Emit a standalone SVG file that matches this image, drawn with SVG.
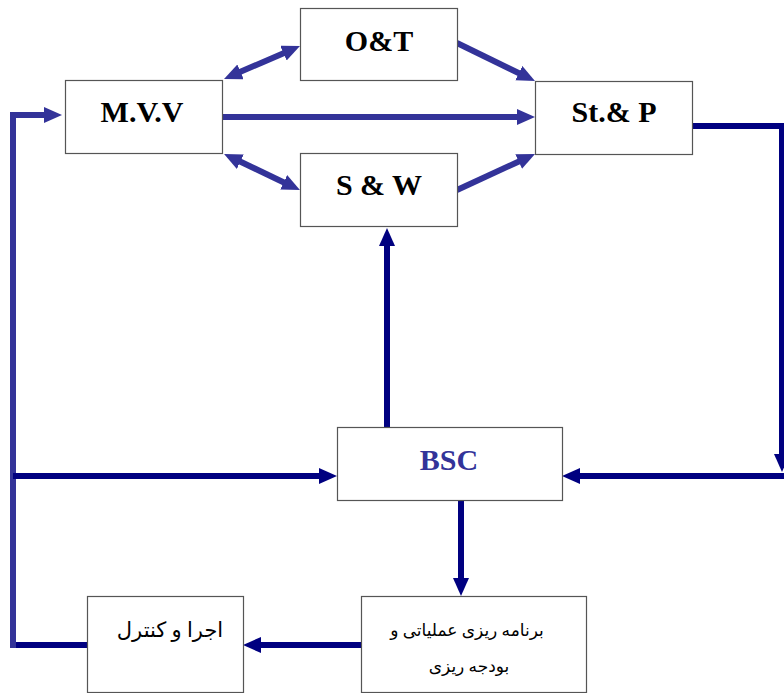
<svg xmlns="http://www.w3.org/2000/svg" width="784" height="693" viewBox="0 0 784 693">
<defs>
<style>
.box{fill:#fff;stroke:#555;stroke-width:1.2}
.lbl{font-family:"Liberation Serif","Times New Roman",serif;font-weight:bold;font-size:30px;fill:#000;text-anchor:middle}
.fa{font-family:"Liberation Serif","DejaVu Sans","Noto Sans",serif;fill:#000;text-anchor:middle;direction:rtl}
.c1{fill:none;stroke:#333399;stroke-width:6}
.c2{fill:none;stroke:#000080;stroke-width:6}
</style>
<marker id="a1" markerUnits="userSpaceOnUse" markerWidth="20" markerHeight="18" refX="2" refY="8" orient="auto-start-reverse"><path d="M0,0 L18,8 L0,16 z" fill="#333399"/></marker>
<marker id="a2" markerUnits="userSpaceOnUse" markerWidth="20" markerHeight="18" refX="2" refY="8" orient="auto-start-reverse"><path d="M0,0 L18,8 L0,16 z" fill="#000080"/></marker>
</defs>
<g id="connectors">
<line class="c1" x1="238.7" y1="72.6" x2="285.3" y2="52.4" marker-start="url(#a1)" marker-end="url(#a1)"/>
<line class="c1" x1="238.5" y1="160.8" x2="285.5" y2="183.2" marker-start="url(#a1)" marker-end="url(#a1)"/>
<line class="c1" x1="457" y1="43" x2="520.6" y2="74" marker-end="url(#a1)"/>
<line class="c1" x1="457" y1="190" x2="520.5" y2="160.7" marker-end="url(#a1)"/>
<line class="c1" x1="222" y1="117" x2="519" y2="117" marker-end="url(#a1)"/>
<line class="c2" x1="87" y1="645" x2="13" y2="645"/>
<path class="c1" d="M13,648 L13,115 L46,115" marker-end="url(#a1)"/>
<line class="c2" x1="13" y1="476" x2="321" y2="476" marker-end="url(#a2)"/>
<path class="c2" d="M686,126 L782,126 L782,456" marker-end="url(#a2)"/>
<line class="c2" x1="784" y1="476" x2="578" y2="476" marker-end="url(#a2)"/>
<line class="c2" x1="387" y1="427" x2="387" y2="244" marker-end="url(#a2)"/>
<line class="c2" x1="461" y1="500" x2="461" y2="580" marker-end="url(#a2)"/>
<line class="c2" x1="361" y1="645" x2="259" y2="645" marker-end="url(#a2)"/>
</g>
<g id="ot"><rect class="box" x="300.5" y="8.5" width="157" height="72"/><text class="lbl" x="379" y="51">O&amp;T</text></g>
<g id="mvv"><rect class="box" x="65.5" y="80.5" width="157" height="73"/><text class="lbl" x="142" y="122">M.V.V</text></g>
<g id="sw"><rect class="box" x="300.5" y="153.5" width="157" height="73"/><text class="lbl" x="379" y="195">S &amp; W</text></g>
<g id="stp"><rect class="box" x="535.5" y="81.5" width="157" height="73"/><text class="lbl" x="614" y="122">St.&amp; P</text></g>
<g id="bsc"><rect class="box" x="337.5" y="427.5" width="225" height="73"/><text class="lbl" x="449" y="470" style="fill:#333399">BSC</text></g>
<g id="plan"><rect class="box" x="361.5" y="596.5" width="225" height="96"/><text class="fa" x="467" y="636" font-size="17">برنامه ریزی عملیاتی و</text><text class="fa" x="469" y="672" font-size="17">بودجه ریزی</text></g>
<g id="exec"><rect class="box" x="87.5" y="596.5" width="156" height="96"/><text class="fa" x="170" y="637" font-size="21">اجرا و کنترل</text></g>
</svg>
